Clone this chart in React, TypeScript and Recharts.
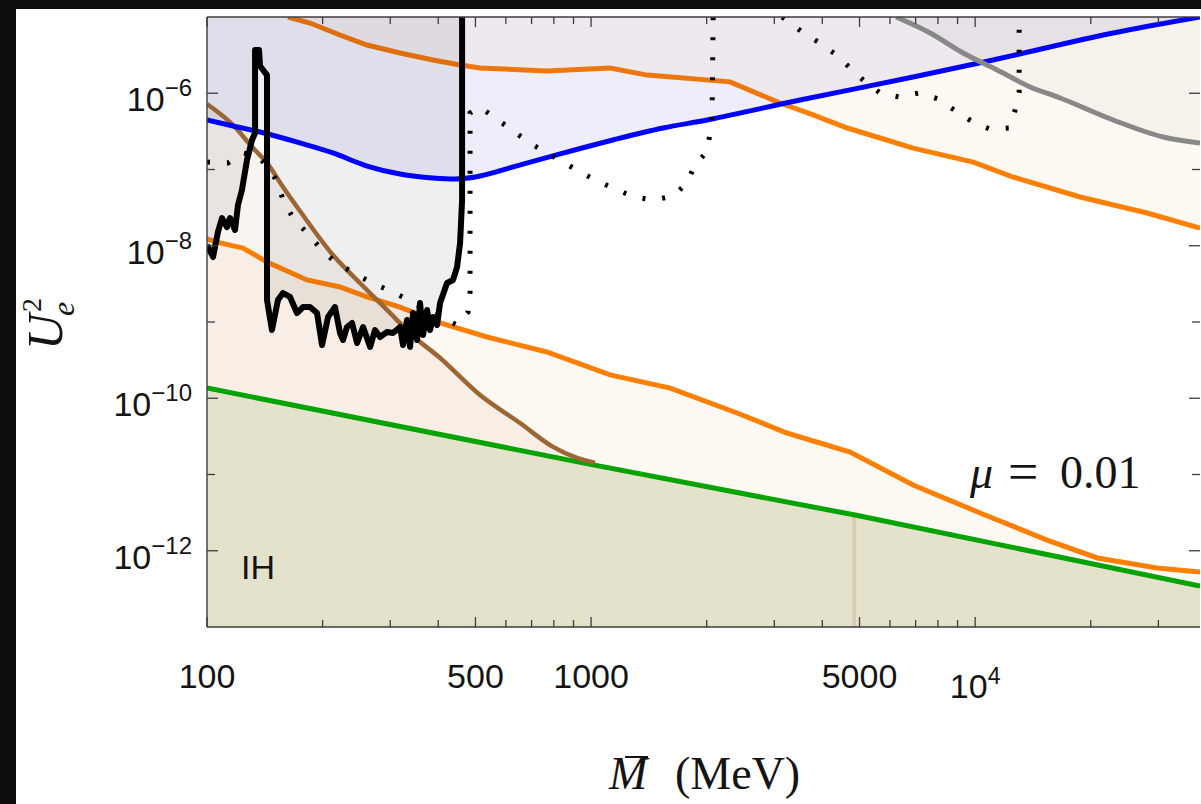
import { ComposedChart, Area, Line, XAxis, YAxis } from 'recharts'

const SANS = '"Liberation Sans", Arial, Helvetica, sans-serif'
const SERIF = '"Liberation Serif", "Times New Roman", serif'
const FRAME = '#3c3c3c'
const INK = '#141414'

// axis ticks (mass in MeV, mixing U_e^2)
const xTicks = [100, 200, 300, 400, 500, 600, 700, 800, 900, 1000, 2000, 3000, 4000, 5000, 6000, 7000, 8000, 9000, 10000, 20000, 30000]
const xTickLabels: Record<number, string[]> = { 100: ['100'], 500: ['500'], 1000: ['1000'], 5000: ['5000'], 10000: ['10', '4'] }
const yTicks = [1e-12, 1e-11, 1e-10, 1e-9, 1e-8, 1e-7, 1e-6]
const yTickLabels: Record<number, string> = { [-6]: '\u22126', [-8]: '\u22128', [-10]: '\u221210', [-12]: '\u221212' }

// curves: [M (MeV), U_e^2]
const blueLimit = [
  [100, 4.46e-7], [116.9, 3.72e-7], [137.4, 3.1e-7], [174.6, 2.23e-7], [212.8, 1.65e-7], [261, 1.11e-7],
  [318, 8.73e-8], [387.6, 7.74e-8], [442.4, 7.5e-8], [499, 7.97e-8], [627, 1.08e-7], [845, 1.64e-7],
  [1140, 2.44e-7], [1540, 3.5e-7], [2004, 4.46e-7], [3499, 8.16e-7], [6894, 1.63e-6], [11140, 2.73e-6],
  [22860, 6.17e-6], [38500, 1e-5],
]
const orangeUpper = [
  [162.5, 1e-5], [185.4, 8.34e-6], [221.8, 5.81e-6], [261, 4.29e-6], [318, 3.37e-6], [387.6, 2.73e-6],
  [456, 2.35e-6], [514, 2.14e-6], [767, 1.96e-6], [1121, 2.14e-6], [1400, 1.73e-6], [2301, 1.41e-6],
  [3105, 7.45e-7], [3786, 5.19e-7], [4645, 3.5e-7], [5657, 2.59e-7], [6894, 1.91e-7], [9886, 1.25e-7],
  [12560, 7.97e-8], [18760, 4.36e-8], [28030, 2.69e-8], [38500, 1.71e-8],
]
const orangeLower = [
  [100, 1.23e-8], [108.1, 1.09e-8], [124.1, 9.34e-9], [143.3, 6.12e-9], [182.2, 3.56e-9], [221.8, 2.88e-9],
  [261, 2.13e-9], [318, 1.57e-9], [404.6, 9.7e-10], [536, 6.36e-10], [767, 4.04e-10], [1121, 2.02e-10],
  [1607, 1.36e-10], [2400, 6.41e-11], [3236, 3.5e-11], [4725, 1.97e-11], [6894, 7.28e-12], [10300, 3.13e-12],
  [15400, 1.38e-12], [20800, 8.04e-13], [29800, 5.94e-13], [38500, 5.26e-13],
]
const greenSeesaw = [[100, 1.36e-10], [952, 1.42e-11], [4870, 2.94e-12], [38500, 3.45e-13]]
const brownBBN = [
  [100, 7.23e-7], [116.9, 3.83e-7], [131.8, 1.91e-7], [143.3, 1.22e-7], [157.7, 5.9e-8], [174.6, 2.86e-8],
  [212.8, 7.56e-9], [250.2, 3.25e-9], [294.3, 1.44e-9], [344, 6.55e-10], [404.6, 3.37e-10], [514, 1.1e-10],
  [653, 4.73e-11], [796, 2.3e-11], [919, 1.65e-11], [1024, 1.42e-11],
]
const blackSearch = [
  [100, 1.02e-8], [103.7, 7.12e-9], [106.8, 1.52e-8], [109.4, 2.31e-8], [112.7, 1.76e-8], [114.8, 2.31e-8],
  [118.3, 1.61e-8], [120.4, 3.42e-8], [123.3, 5.38e-8], [127.1, 1.33e-7], [131, 2.44e-7], [133.4, 3.01e-7],
  [133.4, 3.69e-6], [136.6, 3.69e-6], [137.4, 2.28e-6], [143.3, 1.73e-6], [143.3, 1.94e-9], [147.6, 7.85e-10],
  [153, 1.94e-9], [157.7, 2.4e-9], [164.5, 2.13e-9], [171.5, 1.31e-9], [177.8, 1.57e-9], [185.4, 1.57e-9],
  [193.4, 1.31e-9], [199.3, 4.99e-10], [206.6, 1.16e-9], [215.4, 1.57e-9], [222, 7.17e-10], [226.1, 5.81e-10],
  [231.5, 8.6e-10], [238.6, 9.7e-10], [245.9, 5.3e-10], [254.9, 8.6e-10], [265.9, 4.7e-10], [273.8, 7.85e-10],
  [282.2, 6.36e-10], [294.3, 7.4e-10], [305, 7.17e-10], [318.2, 8.6e-10], [323.9, 4.99e-10], [331.7, 1.06e-9],
  [337.8, 4.7e-10], [344, 1.31e-9], [352.3, 5.81e-10], [358.7, 1.77e-9], [365.2, 6.75e-10], [374.1, 1.44e-9],
  [380.8, 7.85e-10], [387.7, 1.16e-9], [397.2, 9.13e-10], [404.4, 1.77e-9], [421.7, 3.25e-9], [437.2, 3.56e-9],
  [447.8, 5.26e-9], [456, 1.09e-8], [461.5, 3.98e-8], [461.5, 1e-5],
]
const dottedLow = [
  [100, 1.25e-7], [113.4, 1.22e-7], [124.1, 1.65e-7], [135.8, 1.5e-7], [145.9, 9.85e-8], [153, 6.65e-8],
  [157.7, 3.98e-8], [167.5, 2.31e-8], [182.2, 1.47e-8], [197, 9.34e-9], [215.4, 6.12e-9], [238.6, 4.52e-9],
  [265.9, 3.35e-9], [296.1, 2.63e-9], [327.9, 2.06e-9], [380.8, 1.35e-9], [447.8, 9.13e-10], [478.3, 1.35e-9],
  [484.1, 2.47e-9], [484.1, 5.51e-7], [514.1, 6.6e-7], [562.3, 4.74e-7], [622.7, 3.3e-7], [685.5, 2.29e-7],
  [759.2, 1.7e-7], [845.6, 1.25e-7], [936.4, 9.27e-8], [1036.6, 7.07e-8], [1154.8, 5.55e-8], [1294, 4.36e-8],
  [1459, 3.98e-8], [1635, 4.49e-8], [1778, 6.65e-8], [1866, 1.18e-7], [2005, 1.7e-7], [2042, 3.1e-7],
  [2066, 5.51e-7], [2079, 1e-5],
]
const dottedHigh = [
  [3144, 1e-5], [3543, 6.36e-6], [3900, 4.7e-6], [4320, 3.27e-6], [4697, 2.21e-6], [5139, 1.45e-6],
  [5657, 1.01e-6], [6342, 8.93e-7], [7152, 1.01e-6], [8011, 8.41e-7], [8815, 6.03e-7], [9763, 4.33e-7],
  [10880, 3.4e-7], [12260, 3.5e-7], [12710, 6.03e-7], [13020, 1.04e-6], [13020, 3.37e-6], [13020, 1e-5],
]
const grayLimit = [
  [6227, 1e-5], [7636, 6.17e-6], [9305, 3.37e-6], [11410, 2.02e-6], [13910, 1.21e-6], [16650, 8.66e-7],
  [22870, 4.46e-7], [30870, 2.67e-7], [38500, 2.23e-7],
]
const faintMark = [[4840, 2.96e-12], [4840, 1e-13]]

const rows = (pts: number[][]) => pts.map(([m, u]) => ({ m, u }))

function BottomTick({ x, y, payload }: any) {
  const lab = xTickLabels[payload.value]
  return (
    <g>
      <line x1={x} x2={x} y1={y} y2={y - (lab ? 10 : 7)} stroke={FRAME} strokeWidth={1.3} />
      {lab && (
        <text x={x} y={lab.length > 1 ? y + 71 : y + 61} textAnchor="middle" fontFamily={SANS} fontSize={34} fill={INK}>
          {lab[0]}
          {lab.length > 1 && <tspan fontSize={23} dy={-14}>{lab[1]}</tspan>}
        </text>
      )}
    </g>
  )
}

function TopTick({ x, y, payload }: any) {
  const len = xTickLabels[payload.value] ? 10 : 7
  return <line x1={x} x2={x} y1={y} y2={y + len} stroke={FRAME} strokeWidth={1.3} />
}

function LeftTick({ x, y, payload }: any) {
  const lab = yTickLabels[Math.round(Math.log10(payload.value))]
  return (
    <g>
      <line x1={x} x2={x + (lab ? 11 : 8)} y1={y} y2={y} stroke={FRAME} strokeWidth={1.3} />
      {lab && (
        <text x={x - 15} y={y + 18} textAnchor="end" fontFamily={SANS} fontSize={34} fill={INK}>
          10<tspan fontSize={24} dy={-15}>{lab}</tspan>
        </text>
      )}
    </g>
  )
}

function RightTick({ x, y, payload }: any) {
  const len = yTickLabels[Math.round(Math.log10(payload.value))] ? 11 : 8
  return <line x1={x - len} x2={x} y1={y} y2={y} stroke={FRAME} strokeWidth={1.3} />
}

const xDomain = [100, 38500]
const yDomain = [1e-13, 1e-5]

export default function App() {
  return (
    <div style={{ position: 'absolute', left: 0, top: 0, width: 1201, height: 804, background: '#0d0d0d', overflow: 'hidden' }}>
      <div style={{ position: 'absolute', left: 16, top: 9, right: 0, bottom: 0, background: '#ffffff' }} />
      <div style={{ position: 'absolute', left: 0, top: 0 }}>
        <ComposedChart width={1201} height={804} margin={{ top: 16, right: 0, bottom: 0, left: 57 }}>
          <XAxis dataKey="m" type="number" scale="log" domain={xDomain} allowDataOverflow ticks={xTicks} interval={0}
            tickSize={0} tickMargin={0} height={177} tickLine={false} axisLine={{ stroke: FRAME, strokeWidth: 1.4 }} tick={BottomTick} />
          <XAxis xAxisId="top" orientation="top" dataKey="m" type="number" scale="log" domain={xDomain} allowDataOverflow ticks={xTicks}
            interval={0} tickSize={0} tickMargin={0} height={1} tickLine={false} axisLine={{ stroke: FRAME, strokeWidth: 1.4 }} tick={TopTick} />
          <YAxis dataKey="u" type="number" scale="log" domain={yDomain} allowDataOverflow ticks={yTicks} interval={0}
            tickSize={0} tickMargin={0} width={150} tickLine={false} axisLine={{ stroke: FRAME, strokeWidth: 1.4 }} tick={LeftTick} />
          <YAxis yAxisId="right" orientation="right" type="number" scale="log" domain={yDomain} allowDataOverflow ticks={yTicks}
            interval={0} tickSize={0} tickMargin={0} width={1} tickLine={false} axisLine={false} tick={RightTick} />

          {/* shaded regions */}
          <Area data={rows(orangeLower)} dataKey="u" baseValue="dataMin" stroke="none" fill="rgba(255,128,0,0.08)" isAnimationActive={false} dot={false} activeDot={false} />
          <Area data={rows(orangeUpper)} dataKey="u" baseValue="dataMax" stroke="none" fill="rgba(255,128,0,0.08)" isAnimationActive={false} dot={false} activeDot={false} />
          <Area data={rows(brownBBN)} dataKey="u" type="monotone" baseValue="dataMin" stroke="none" fill="rgba(150,95,45,0.11)" isAnimationActive={false} dot={false} activeDot={false} />
          <Area data={rows(greenSeesaw)} dataKey="u" baseValue="dataMin" stroke="none" fill="#e5e2cc" fillOpacity={1} isAnimationActive={false} dot={false} activeDot={false} />
          <Area data={rows(orangeLower)} dataKey="u" baseValue="dataMin" stroke="#ff8000" strokeWidth={5} fill="none" isAnimationActive={false} dot={false} activeDot={false} />
          <Area data={rows(orangeUpper)} dataKey="u" baseValue="dataMax" stroke="#ff8000" strokeWidth={5} fill="none" isAnimationActive={false} dot={false} activeDot={false} />
          <Area data={rows(blueLimit)} dataKey="u" type="monotone" baseValue="dataMax" stroke="none" fill="rgba(0,0,200,0.11)" isAnimationActive={false} dot={false} activeDot={false} />
          <Area data={rows(blackSearch)} dataKey="u" baseValue="dataMax" stroke="none" fill="rgba(0,0,0,0.1)" isAnimationActive={false} dot={false} activeDot={false} />
          <Area data={rows(grayLimit)} dataKey="u" type="monotone" baseValue="dataMax" stroke="none" fill="rgba(0,0,0,0.055)" isAnimationActive={false} dot={false} activeDot={false} />

          {/* boundary lines */}
          <Line data={rows(faintMark)} dataKey="u" stroke="#d3c6a8" strokeWidth={4} strokeOpacity={0.7} dot={false} activeDot={false} isAnimationActive={false} />
          <Line data={rows(greenSeesaw)} dataKey="u" stroke="#00a300" strokeWidth={5} dot={false} activeDot={false} isAnimationActive={false} />
          <Line data={rows(brownBBN)} dataKey="u" type="monotone" stroke="#9c6634" strokeWidth={4.5} dot={false} activeDot={false} isAnimationActive={false} />
          <Line data={rows(blueLimit)} dataKey="u" type="monotone" stroke="#0000ff" strokeWidth={5} dot={false} activeDot={false} isAnimationActive={false} />
          <Line data={rows(grayLimit)} dataKey="u" type="monotone" stroke="#888888" strokeWidth={5} dot={false} activeDot={false} isAnimationActive={false} />
          <Line data={rows(dottedLow)} dataKey="u" stroke="#000" strokeWidth={5} strokeDasharray="3 17" dot={false} activeDot={false} isAnimationActive={false} />
          <Line data={rows(dottedHigh)} dataKey="u" stroke="#000" strokeWidth={5} strokeDasharray="3 17" dot={false} activeDot={false} isAnimationActive={false} />
          <Line data={rows(blackSearch)} dataKey="u" stroke="#000" strokeWidth={6} strokeLinejoin="round" dot={false} activeDot={false} isAnimationActive={false} />
        </ComposedChart>
      </div>
      <svg width={1201} height={804} style={{ position: 'absolute', left: 0, top: 0, pointerEvents: 'none' }}>
        <g transform="translate(62,350) rotate(-90)" fill={INK} fontFamily={SERIF} fontStyle="italic">
          <text x={0} y={0} fontSize={50}>U</text>
          <text x={34} y={12} fontSize={32}>e</text>
          <text x={38} y={-21} fontSize={28} fontStyle="normal">2</text>
        </g>
        <text x={609} y={789} fontFamily={SERIF} fontStyle="italic" fontSize={46} fill={INK}>M</text>
        <line x1={625} x2={648} y1={757} y2={757} stroke={INK} strokeWidth={2} />
        <text x={675} y={789} fontFamily={SERIF} fontSize={46} fill={INK}>(MeV)</text>
        <text y={488} fontFamily={SERIF} fontSize={46} fill={INK}>
          <tspan x={970} fontStyle="italic">μ</tspan>
          <tspan x={1008} fontSize={54} dy={2}>=</tspan>
          <tspan x={1060} dy={-2}>0.01</tspan>
        </text>
        <text x={241} y={579} fontFamily={SANS} fontSize={34} fill={INK}>IH</text>
      </svg>
    </div>
  )
}
